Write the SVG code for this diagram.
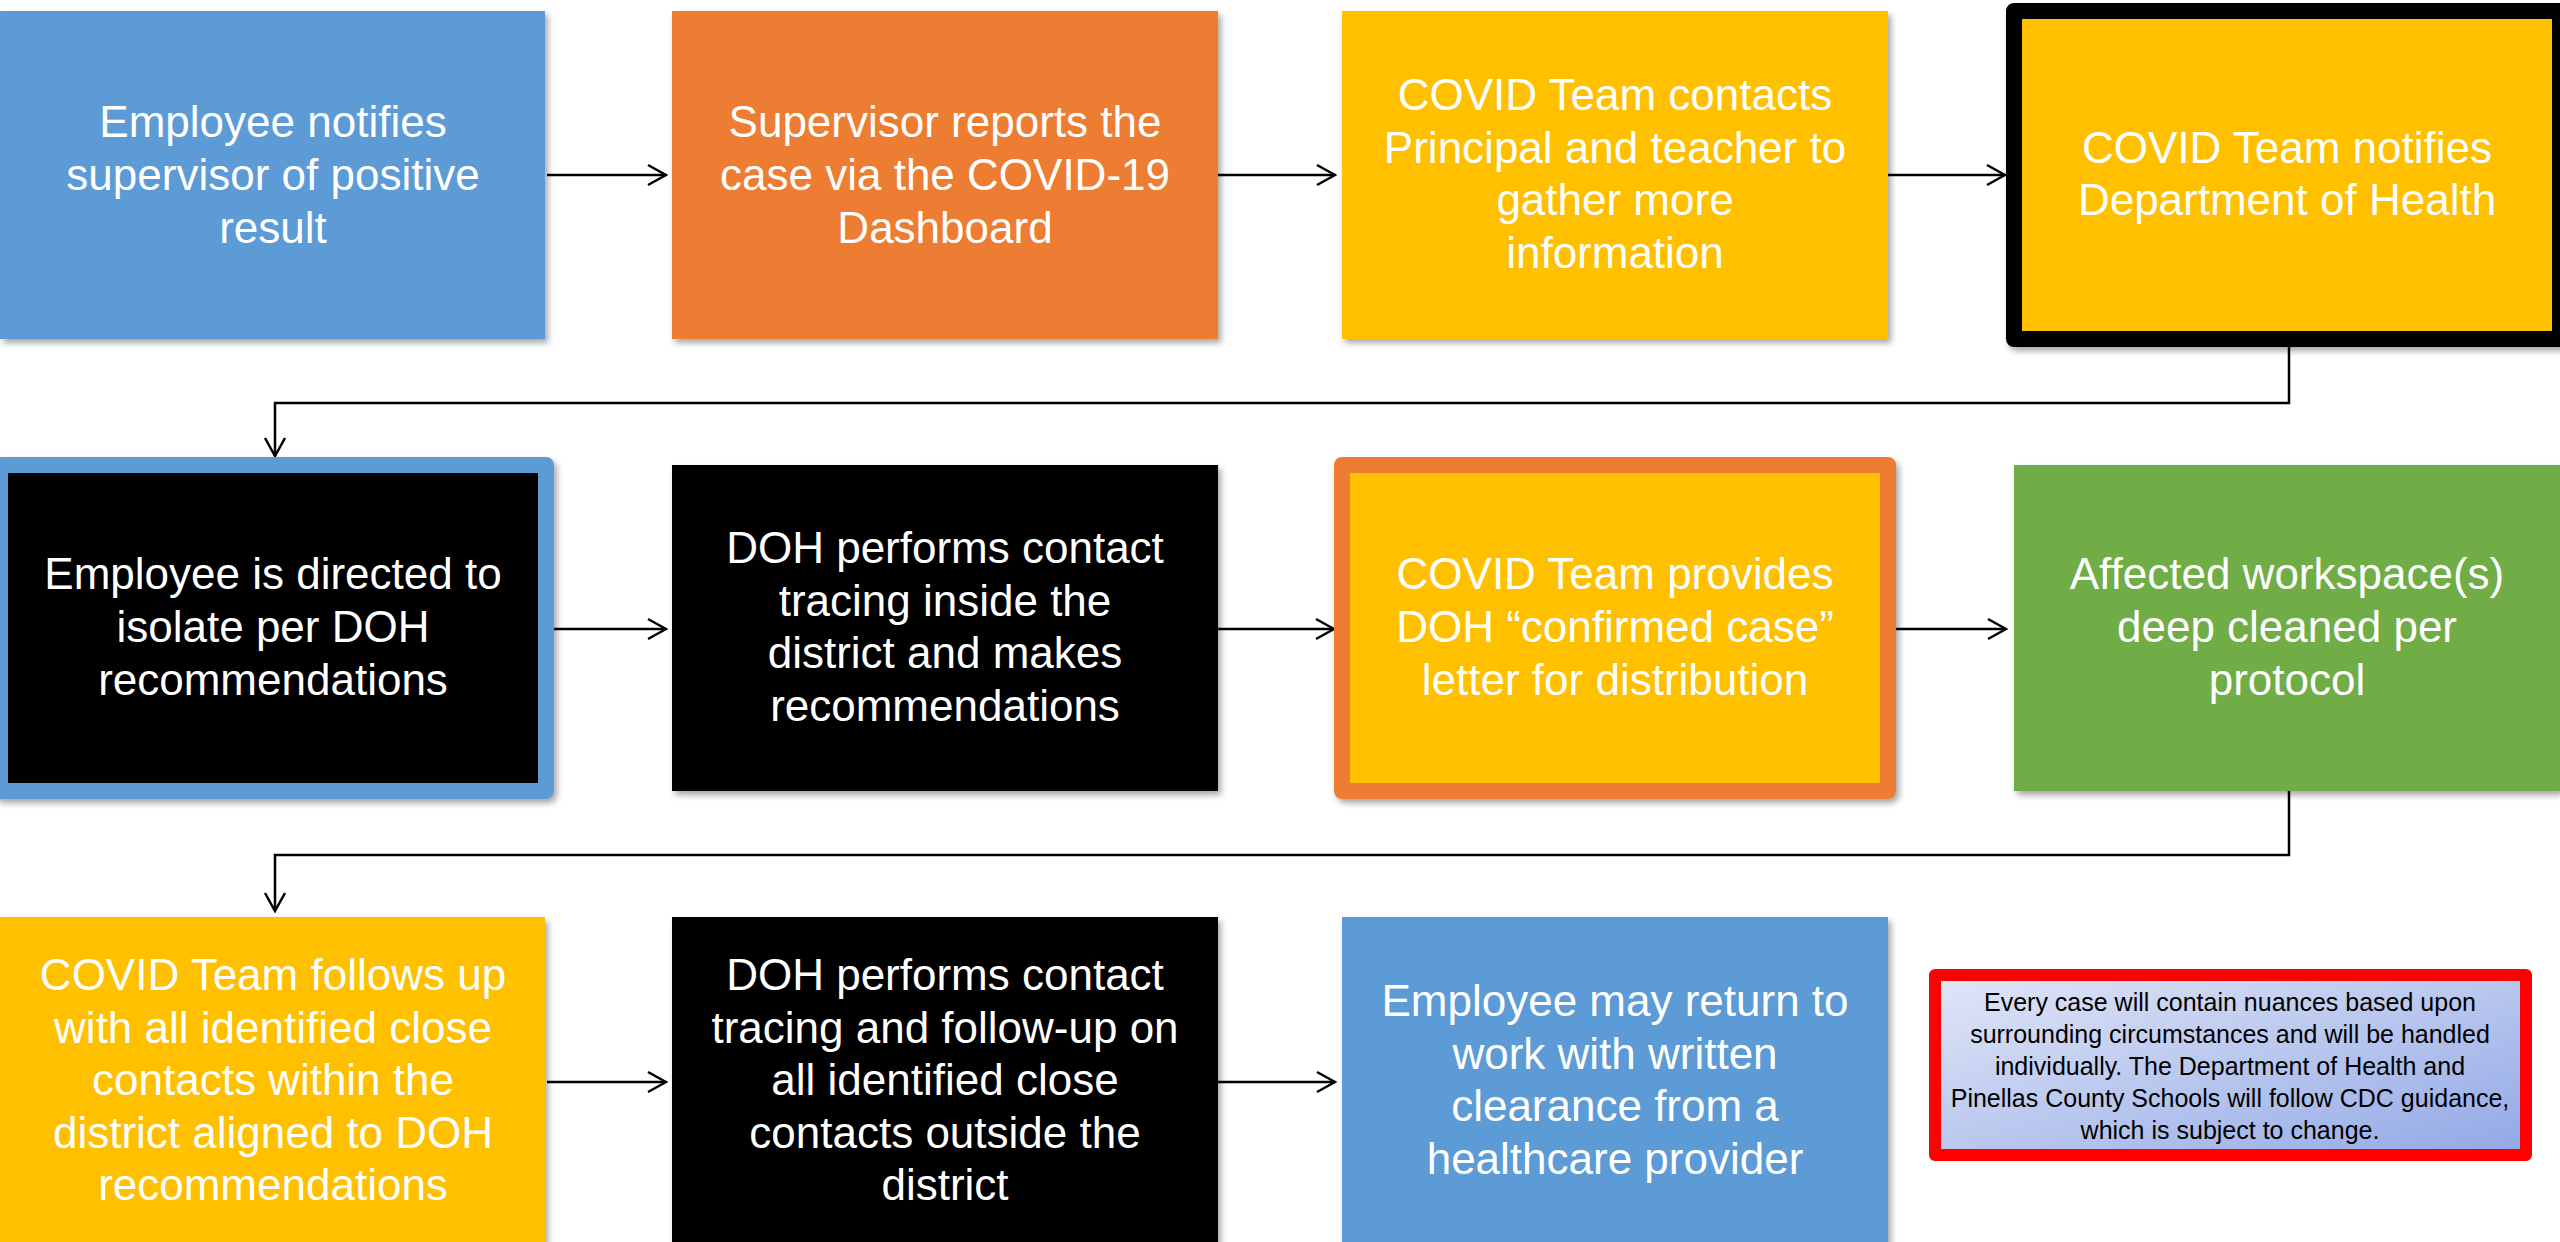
<svg xmlns="http://www.w3.org/2000/svg" width="2560" height="1242" viewBox="0 0 2560 1242">
<style>
.t{font-family:"Liberation Sans",Arial,sans-serif;font-size:44px;fill:#FFFFFF;text-anchor:middle}
.n{font-family:"Liberation Sans",Arial,sans-serif;font-size:25px;fill:#000000;text-anchor:middle}
.c{fill:none;stroke:#000000;stroke-width:2.5}
.blue{fill:#5B9BD5}
.orange{fill:#ED7D31}
.yellow{fill:#FFC000}
.green{fill:#70AD47}
.black{fill:#000000}
</style>
<defs>
<filter id="sh" x="-5%" y="-5%" width="115%" height="115%">
<feDropShadow dx="3" dy="4" stdDeviation="3" flood-color="#000000" flood-opacity="0.35"/>
</filter>
<linearGradient id="ng" x1="0" y1="0" x2="1" y2="1">
<stop offset="0" stop-color="#E2E7F7"/>
<stop offset="1" stop-color="#91A8E6"/>
</linearGradient>
<marker id="ah" viewBox="-20 -12 22 24" refX="0" refY="0" markerWidth="22" markerHeight="24" markerUnits="userSpaceOnUse" orient="auto">
<path d="M -18 -10 L 0 0 L -18 10" fill="none" stroke="#000000" stroke-width="2.5"/>
</marker>
</defs>
<rect width="2560" height="1242" fill="#FFFFFF"/>

<g id="connectors">
<line class="c" x1="547" y1="175" x2="666" y2="175" marker-end="url(#ah)"/>
<line class="c" x1="1218" y1="175" x2="1335" y2="175" marker-end="url(#ah)"/>
<line class="c" x1="1888" y1="175" x2="2005" y2="175" marker-end="url(#ah)"/>
<polyline class="c" points="2289,347 2289,403 275,403 275,456" marker-end="url(#ah)"/>
<line class="c" x1="554" y1="629" x2="666" y2="629" marker-end="url(#ah)"/>
<line class="c" x1="1218" y1="629" x2="1334" y2="629" marker-end="url(#ah)"/>
<line class="c" x1="1896" y1="629" x2="2006" y2="629" marker-end="url(#ah)"/>
<polyline class="c" points="2289,791 2289,855 275,855 275,911" marker-end="url(#ah)"/>
<line class="c" x1="547" y1="1082" x2="666" y2="1082" marker-end="url(#ah)"/>
<line class="c" x1="1218" y1="1082" x2="1335" y2="1082" marker-end="url(#ah)"/>
</g>

<g id="n1">
<rect class="blue" x="0" y="11" width="545" height="328" filter="url(#sh)"/>
<text class="t"><tspan x="273" y="137">Employee notifies</tspan><tspan x="273" y="190">supervisor of positive</tspan><tspan x="273" y="243">result</tspan></text>
</g>
<g id="n2">
<rect class="orange" x="672" y="11" width="546" height="328" filter="url(#sh)"/>
<text class="t"><tspan x="945" y="137">Supervisor reports the</tspan><tspan x="945" y="190">case via the COVID-19</tspan><tspan x="945" y="243">Dashboard</tspan></text>
</g>
<g id="n3">
<rect class="yellow" x="1342" y="11" width="546" height="328" filter="url(#sh)"/>
<text class="t"><tspan x="1615" y="110">COVID Team contacts</tspan><tspan x="1615" y="163">Principal and teacher to</tspan><tspan x="1615" y="215">gather more</tspan><tspan x="1615" y="268">information</tspan></text>
</g>
<g id="n4">
<rect class="yellow" x="2014" y="11" width="546" height="328" stroke="#000000" stroke-width="16" stroke-linejoin="round" filter="url(#sh)"/>
<text class="t"><tspan x="2287" y="163">COVID Team notifies</tspan><tspan x="2287" y="215">Department of Health</tspan></text>
</g>

<g id="n5">
<rect class="black" x="0" y="465" width="546" height="326" stroke="#5B9BD5" stroke-width="16" stroke-linejoin="round" filter="url(#sh)"/>
<text class="t"><tspan x="273" y="589">Employee is directed to</tspan><tspan x="273" y="642">isolate per DOH</tspan><tspan x="273" y="695">recommendations</tspan></text>
</g>
<g id="n6">
<rect class="black" x="672" y="465" width="546" height="326" filter="url(#sh)"/>
<text class="t"><tspan x="945" y="563">DOH performs contact</tspan><tspan x="945" y="616">tracing inside the</tspan><tspan x="945" y="668">district and makes</tspan><tspan x="945" y="721">recommendations</tspan></text>
</g>
<g id="n7">
<rect class="yellow" x="1342" y="465" width="546" height="326" stroke="#ED7D31" stroke-width="16" stroke-linejoin="round" filter="url(#sh)"/>
<text class="t"><tspan x="1615" y="589">COVID Team provides</tspan><tspan x="1615" y="642">DOH “confirmed case”</tspan><tspan x="1615" y="695">letter for distribution</tspan></text>
</g>
<g id="n8">
<rect class="green" x="2014" y="465" width="546" height="326" filter="url(#sh)"/>
<text class="t"><tspan x="2287" y="589">Affected workspace(s)</tspan><tspan x="2287" y="642">deep cleaned per</tspan><tspan x="2287" y="695">protocol</tspan></text>
</g>

<g id="n9">
<rect class="yellow" x="0" y="917" width="545" height="330" filter="url(#sh)"/>
<text class="t"><tspan x="273" y="990">COVID Team follows up</tspan><tspan x="273" y="1043">with all identified close</tspan><tspan x="273" y="1095">contacts within the</tspan><tspan x="273" y="1148">district aligned to DOH</tspan><tspan x="273" y="1200">recommendations</tspan></text>
</g>
<g id="n10">
<rect class="black" x="672" y="917" width="546" height="330" filter="url(#sh)"/>
<text class="t"><tspan x="945" y="990">DOH performs contact</tspan><tspan x="945" y="1043">tracing and follow-up on</tspan><tspan x="945" y="1095">all identified close</tspan><tspan x="945" y="1148">contacts outside the</tspan><tspan x="945" y="1200">district</tspan></text>
</g>
<g id="n11">
<rect class="blue" x="1342" y="917" width="546" height="330" filter="url(#sh)"/>
<text class="t"><tspan x="1615" y="1016">Employee may return to</tspan><tspan x="1615" y="1069">work with written</tspan><tspan x="1615" y="1121">clearance from a</tspan><tspan x="1615" y="1174">healthcare provider</tspan></text>
</g>

<g id="note">
<rect x="1935" y="975" width="591" height="180" fill="url(#ng)" stroke="#FF0000" stroke-width="12" stroke-linejoin="round"/>
<text class="n"><tspan x="2230" y="1011">Every case will contain nuances based upon</tspan><tspan x="2230" y="1043">surrounding circumstances and will be handled</tspan><tspan x="2230" y="1075">individually.  The Department of Health and</tspan><tspan x="2230" y="1107">Pinellas County Schools will follow CDC guidance,</tspan><tspan x="2230" y="1139">which is subject to change.</tspan></text>
</g>
</svg>
